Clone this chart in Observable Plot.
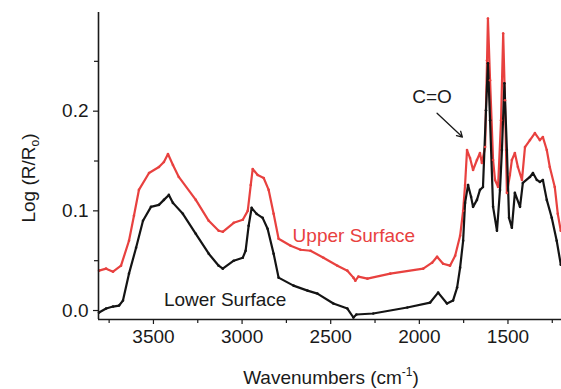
<!DOCTYPE html>
<html>
<head>
<meta charset="utf-8">
<script src="https://cdn.jsdelivr.net/npm/d3@7"></script>
<script src="https://cdn.jsdelivr.net/npm/@observablehq/plot@0.6"></script>
<style>
  html, body { margin: 0; padding: 0; background: #fff; }
  #chart { width: 561px; height: 389px; }
</style>
</head>
<body>
<div id="chart"></div>
<script>
// Upper surface spectrum (red): wavenumber (cm-1), Log(R/Ro)
const upperWave = [3807,3767,3728,3683,3638,3610,3582,3525,3469,3441,3418,3390,3357,3261,3188,3132,3109,3047,2996,2968,2951,2940,2912,2878,2850,2822,2794,2726,2670,2614,2541,2462,2406,2372,2361,2344,2293,2164,1978,1928,1900,1866,1827,1798,1770,1753,1742,1731,1714,1697,1675,1658,1647,1629,1618,1613,1601,1584,1573,1556,1539,1527,1517,1506,1489,1478,1461,1444,1421,1404,1376,1348,1320,1303,1281,1264,1236,1219,1202];
const upperVal  = [0.040,0.042,0.039,0.045,0.070,0.095,0.121,0.138,0.144,0.149,0.157,0.146,0.134,0.111,0.090,0.080,0.079,0.088,0.091,0.100,0.126,0.142,0.136,0.133,0.121,0.097,0.072,0.065,0.061,0.060,0.053,0.045,0.040,0.033,0.030,0.034,0.032,0.037,0.042,0.048,0.054,0.047,0.045,0.055,0.075,0.100,0.126,0.161,0.153,0.141,0.151,0.158,0.148,0.164,0.251,0.293,0.231,0.151,0.131,0.124,0.191,0.278,0.211,0.118,0.136,0.151,0.158,0.144,0.131,0.164,0.171,0.178,0.171,0.174,0.161,0.144,0.124,0.097,0.080];

// Lower surface spectrum (black)
const lowerWave = [3807,3767,3728,3694,3672,3638,3598,3559,3514,3469,3441,3413,3390,3334,3261,3188,3132,3109,3047,2996,2980,2963,2946,2918,2884,2856,2822,2794,2710,2631,2575,2485,2406,2372,2355,2260,2068,1939,1894,1844,1810,1787,1770,1753,1742,1725,1708,1697,1675,1658,1641,1624,1613,1601,1584,1562,1545,1534,1520,1506,1494,1478,1461,1432,1416,1376,1359,1337,1320,1303,1281,1253,1225,1202];
const lowerVal  = [-0.002,0.002,0.004,0.005,0.010,0.037,0.063,0.090,0.104,0.106,0.111,0.116,0.108,0.097,0.077,0.057,0.045,0.042,0.050,0.053,0.060,0.085,0.103,0.097,0.093,0.082,0.057,0.033,0.025,0.020,0.017,0.007,0.002,-0.007,-0.004,-0.003,0.003,0.008,0.018,0.007,0.010,0.023,0.043,0.070,0.108,0.126,0.114,0.104,0.111,0.121,0.124,0.201,0.248,0.191,0.104,0.080,0.121,0.161,0.228,0.161,0.093,0.083,0.118,0.104,0.128,0.134,0.138,0.131,0.129,0.131,0.111,0.093,0.070,0.046];

// Axis ticks
const xMajorTicks = [3500, 3000, 2500, 2000, 1500];
const xMinorTicks = [3750, 3250, 2750, 2250, 1750, 1250];
const yMajorTicks = [0.0, 0.1, 0.2];
const yMinorTicks = [0.05, 0.15, 0.25];

// Annotations
const seriesLabels = [
  {w: 2715, v: 0.0744, text: "Upper Surface", color: "#e8413f"},
  {w: 3441, v: 0.0105, text: "Lower Surface", color: "#1a1a1a"}
];
const peakLabels = [{w: 1928, v: 0.2145, text: "C=O"}];
const arrows = [{w1: 1900, v1: 0.198, w2: 1757, v2: 0.174}];

const RED = "#e8413f";
const BLACK = "#141414";

const upper = upperWave.map((w, i) => ({w, v: upperVal[i]}));
const lower = lowerWave.map((w, i) => ({w, v: lowerVal[i]}));

const X0 = 3810, X1 = 1198, Y0 = -0.009, Y1 = 0.299;

const plot = Plot.plot({
  width: 561,
  height: 389,
  marginLeft: 98,
  marginRight: 0,
  marginTop: 12,
  marginBottom: 70,
  style: {fontFamily: "'Liberation Sans', Arial, sans-serif", fontSize: "19px", color: "#1a1a1a", background: "#fff"},
  x: {domain: [X0, X1]},
  y: {domain: [Y0, Y1]},
  marks: [
    Plot.line(upper, {x: "w", y: "v", stroke: RED, strokeWidth: 2.2, curve: "linear"}),
    Plot.line(lower, {x: "w", y: "v", stroke: BLACK, strokeWidth: 2.2, curve: "linear"}),
    Plot.dot(upper, {x: "w", y: "v", r: 1.3, fill: RED, stroke: "none"}),
    Plot.dot(lower, {x: "w", y: "v", r: 1.3, fill: BLACK, stroke: "none"}),
    Plot.axisX({ticks: xMajorTicks, tickSize: 5, tickPadding: 5, tickFormat: d => String(d), label: null, strokeWidth: 1.2}),
    Plot.axisX({ticks: xMinorTicks, tickSize: 4, tickFormat: null, text: null, label: null, strokeWidth: 1.2}),
    Plot.axisY({ticks: yMajorTicks, tickSize: 5, tickPadding: 5, tickFormat: d3.format(".1f"), label: null, strokeWidth: 1.2}),
    Plot.axisY({ticks: yMinorTicks, tickSize: 4, tickFormat: null, text: null, label: null, strokeWidth: 1.2}),
    Plot.ruleX([X0], {y1: Y0, y2: Y1, stroke: "#1a1a1a", strokeWidth: 1.6}),
    Plot.ruleY([Y0], {x1: X0, x2: X1, stroke: "#1a1a1a", strokeWidth: 1.6}),
    Plot.text(seriesLabels, {x: "w", y: "v", text: "text", fill: "color", textAnchor: "start", fontSize: 19}),
    Plot.text(peakLabels, {x: "w", y: "v", text: "text", fill: "#1a1a1a", textAnchor: "middle", fontSize: 19}),
    Plot.arrow(arrows, {x1: "w1", y1: "v1", x2: "w2", y2: "v2", stroke: "#1a1a1a", strokeWidth: 1.3, headLength: 7})
  ]
});

document.getElementById("chart").appendChild(plot);
const svg = d3.select(plot);

// Axis titles with sub/superscripts
const xt = svg.append("text")
  .attr("x", 331).attr("y", 384)
  .attr("text-anchor", "middle")
  .attr("font-size", 19)
  .attr("fill", "#1a1a1a");
xt.append("tspan").text("Wavenumbers (cm");
xt.append("tspan").attr("font-size", 12).attr("dy", -8).text("-1");
xt.append("tspan").attr("dy", 8).text(")");

const yt = svg.append("text")
  .attr("transform", "translate(35,178) rotate(-90)")
  .attr("text-anchor", "middle")
  .attr("font-size", 19)
  .attr("fill", "#1a1a1a");
yt.append("tspan").text("Log (R/R");
yt.append("tspan").attr("font-size", 12).attr("dy", 4).text("o");
yt.append("tspan").attr("dy", -4).text(")");
</script>
</body>
</html>
